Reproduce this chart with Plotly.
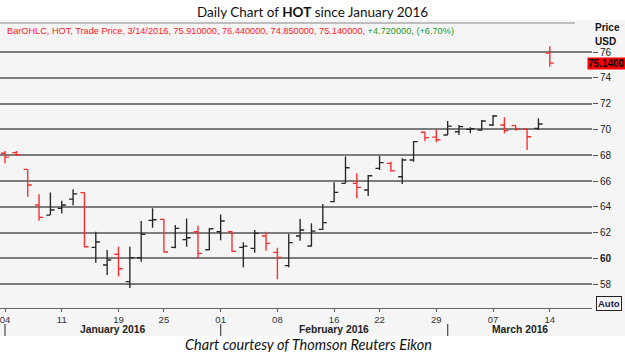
import plotly.graph_objects as go

# ---------------- data ----------------
dates = [
    "2016-01-04", "2016-01-05", "2016-01-06", "2016-01-07", "2016-01-08",
    "2016-01-11", "2016-01-12", "2016-01-13", "2016-01-14", "2016-01-15",
    "2016-01-19", "2016-01-20", "2016-01-21", "2016-01-22",
    "2016-01-25", "2016-01-26", "2016-01-27", "2016-01-28", "2016-01-29",
    "2016-02-01", "2016-02-02", "2016-02-03", "2016-02-04", "2016-02-05",
    "2016-02-08", "2016-02-09", "2016-02-10", "2016-02-11", "2016-02-12",
    "2016-02-16", "2016-02-17", "2016-02-18", "2016-02-19",
    "2016-02-22", "2016-02-23", "2016-02-24", "2016-02-25", "2016-02-26",
    "2016-02-29", "2016-03-01", "2016-03-02", "2016-03-03", "2016-03-04",
    "2016-03-07", "2016-03-08", "2016-03-09", "2016-03-10", "2016-03-11",
    "2016-03-14",
]
open_ = [68.15, 68.20, 66.90, 64.14, 63.36, 63.88, 64.60, 65.10, 60.86, 59.49,
         60.32, 58.20, 60.05, 62.95, 63.03, 60.86, 61.45, 62.07, 60.67,
         62.07, 62.07, 60.85, 60.78, 61.74, 60.47, 59.44, 61.74, 60.96, 62.25,
         64.40, 65.82, 65.82, 65.30, 66.98, 67.37, 66.33, 67.63, 69.78, 69.40,
         69.57, 69.82, 70.00, 69.95, 70.34, 70.34, 70.29, 70.00, 70.08, 75.91]
high = [68.33, 68.33, 66.91, 64.97, 65.10, 64.47, 65.36, 65.12, 62.07, 60.65,
        60.91, 60.90, 62.90, 63.88, 63.05, 62.59, 63.10, 62.54, 62.33,
        63.40, 62.10, 61.25, 62.20, 62.07, 60.83, 61.89, 63.05, 62.72, 64.22,
        65.90, 67.89, 66.60, 66.47, 67.94, 67.50, 67.76, 69.10, 69.82, 70.00,
        70.65, 70.34, 70.16, 70.73, 71.12, 70.94, 70.29, 70.08, 70.86, 76.44]
low = [67.37, 67.96, 64.78, 62.92, 63.36, 63.50, 64.12, 60.86, 59.67, 58.71,
       58.60, 57.70, 59.75, 62.38, 60.47, 60.78, 60.91, 60.00, 60.65,
       61.40, 60.52, 59.31, 60.44, 60.60, 58.38, 59.31, 61.37, 60.91, 62.20,
       64.35, 65.82, 64.66, 64.84, 66.85, 66.72, 65.77, 67.50, 69.10, 69.00,
       69.57, 69.57, 69.70, 69.90, 70.26, 69.70, 69.90, 68.40, 69.95, 74.85]
close = [67.85, 68.05, 65.69, 63.18, 63.75, 64.14, 65.00, 60.90, 61.27, 59.88,
         59.20, 60.05, 61.87, 63.00, 60.50, 62.33, 61.60, 60.39, 62.30,
         62.90, 60.55, 60.95, 61.94, 61.17, 60.08, 61.22, 62.20, 62.12, 62.77,
         65.12, 67.03, 65.51, 66.41, 67.42, 66.78, 67.63, 69.05, 69.36, 69.20,
         70.26, 70.21, 70.05, 70.65, 71.04, 69.90, 70.00, 69.43, 70.42, 75.14]

x_tick_dates = ["2016-01-04", "2016-01-11", "2016-01-19", "2016-01-25", "2016-02-01",
                "2016-02-08", "2016-02-16", "2016-02-22", "2016-02-29", "2016-03-07",
                "2016-03-14"]
x_tick_text = ["04", "11", "19", "25", "01", "08", "16", "22", "29", "07", "14"]
months = ["January 2016", "February 2016", "March 2016"]
month_keys = ["2016-01", "2016-02", "2016-03"]
y_ticks = [58, 60, 62, 64, 66, 68, 70, 72, 74, 76]

# ---------------- geometry ----------------
W, H = 625, 352
L, R, T, B = 0, 33, 22, 44
plot_w = W - L - R
plot_h = H - T - B
PX_PER_DAY = 11.35
PX_PER_USD = 12.9
x0 = -5 / PX_PER_DAY
x_range = [x0, x0 + plot_w / PX_PER_DAY]
y_top = 76 + (52 - T) / PX_PER_USD
y_range = [y_top - plot_h / PX_PER_USD, y_top]


def px_x(px):
    return (px - L) / plot_w


def px_y(py):
    return (H - B - py) / plot_h


PANEL = "#f5f5f5"
GRID = "#7c7c7c"
RED = "#ff2a2a"
DARK = "#262626"
FONT = "Liberation Sans"

fig = go.Figure()
fig.add_trace(go.Ohlc(
    x=dates, open=open_, high=high, low=low, close=close,
    increasing=dict(line=dict(color=DARK, width=1.35)),
    decreasing=dict(line=dict(color=RED, width=1.35)),
    tickwidth=0.36, hoverinfo="skip", showlegend=False,
))

ticktext_y = [("<b>%d</b>" % v) if v == 60 else str(v) for v in y_ticks]

fig.update_layout(
    width=W, height=H,
    margin=dict(l=L, r=R, t=T, b=B, pad=0),
    paper_bgcolor="white", plot_bgcolor=PANEL,
    showlegend=False,
    title=dict(text="Daily Chart of <b>HOT</b> since January 2016",
               x=0.5, xanchor="center", y=1 - 12 / H, yanchor="middle",
               font=dict(family="Lato", size=13.5, color="#111")),
    xaxis=dict(type="category", range=x_range, rangeslider=dict(visible=False),
               tickvals=x_tick_dates, ticktext=x_tick_text,
               showgrid=False, zeroline=False, showline=True, linecolor="#666",
               linewidth=1, ticks="outside", ticklen=3, tickcolor="#555",
               tickfont=dict(family=FONT, size=9.5, color="#333")),
    yaxis=dict(side="right", range=y_range, tickvals=y_ticks, ticktext=ticktext_y,
               showgrid=True, gridcolor=GRID, gridwidth=1.5, zeroline=False,
               showline=False, ticks="outside", ticklen=5, tickcolor="#555",
               tickfont=dict(family=FONT, size=10, color="#222")),
)

shapes = []
# gray chart panel
shapes.append(dict(type="rect", xref="paper", yref="paper",
                   x0=px_x(0), x1=px_x(W), y0=px_y(336), y1=px_y(20),
                   fillcolor=PANEL, line=dict(width=0), layer="below"))
# top line of chart
shapes.append(dict(type="line", xref="paper", yref="paper",
                   x0=px_x(0), x1=px_x(575), y0=px_y(23), y1=px_y(23),
                   line=dict(color="#888", width=1.2)))
# month separators
for mk in month_keys:
    first = next(i for i, d in enumerate(dates) if d.startswith(mk))
    shapes.append(dict(type="line", xref="x", yref="paper",
                       x0=first, x1=first, y0=px_y(324), y1=px_y(336),
                       line=dict(color="#555", width=1.3)))
fig.update_layout(shapes=shapes)

ann = []
# month labels, centred between month boundaries
starts = [next(i for i, d in enumerate(dates) if d.startswith(mk)) for mk in month_keys]
ends = starts[1:] + [x_range[1]]
for name, s, e in zip(months, starts, ends):
    ann.append(dict(text="<b>%s</b>" % name, xref="x", yref="paper",
                    x=(s + e) / 2, y=px_y(329), showarrow=False,
                    xanchor="center", yanchor="middle",
                    font=dict(family=FONT, size=10.3, color="#222")))
# header line
last = len(dates) - 1
chg = close[last] - close[last - 1]
pct = chg / close[last - 1] * 100
m, d, yv = int(dates[last][5:7]), int(dates[last][8:10]), dates[last][:4]
hdr = ("<span style='color:#ff2020'>BarOHLC, HOT, Trade Price, %d/%d/%s, %.6f, %.6f, %.6f, %.6f, </span>"
       "<span style='color:#1e9a1e'>%+.6f, (%+.2f%%)</span>") % (
    m, d, yv, open_[last], high[last], low[last], close[last], chg, pct)
ann.append(dict(text=hdr, xref="paper", yref="paper", x=px_x(5), y=px_y(31),
                xanchor="left", yanchor="middle", showarrow=False,
                font=dict(family=FONT, size=9.2)))
# Price / USD
ann.append(dict(text="<b>Price</b>", xref="paper", yref="paper", x=px_x(593), y=px_y(28),
                xanchor="left", yanchor="middle", showarrow=False,
                font=dict(family=FONT, size=10, color="#111")))
ann.append(dict(text="<b>USD</b>", xref="paper", yref="paper", x=px_x(593), y=px_y(41),
                xanchor="left", yanchor="middle", showarrow=False,
                font=dict(family=FONT, size=10, color="#111")))
# last price box
ann.append(dict(text="<b>%.4f</b>" % close[last], xref="paper", yref="y",
                x=px_x(587), y=close[last], xanchor="left", yanchor="middle",
                showarrow=False, bgcolor="#ff0000", borderpad=0,
                font=dict(family=FONT, size=10, color="#000")))
# Auto box
ann.append(dict(text="<b>Auto</b>", xref="paper", yref="paper", x=px_x(596), y=px_y(303),
                xanchor="left", yanchor="middle", showarrow=False,
                bordercolor="#222", borderwidth=1, borderpad=1,
                font=dict(family=FONT, size=9.5, color="#1a1a50")))
# caption
ann.append(dict(text="<i>Chart courtesy of Thomson Reuters Eikon</i>", xref="paper", yref="paper",
                x=px_x(308), y=px_y(344), xanchor="center", yanchor="middle", showarrow=False,
                font=dict(family="Lato", size=14.5, color="#111")))
fig.update_layout(annotations=ann)

fig.write_html("out.html")
